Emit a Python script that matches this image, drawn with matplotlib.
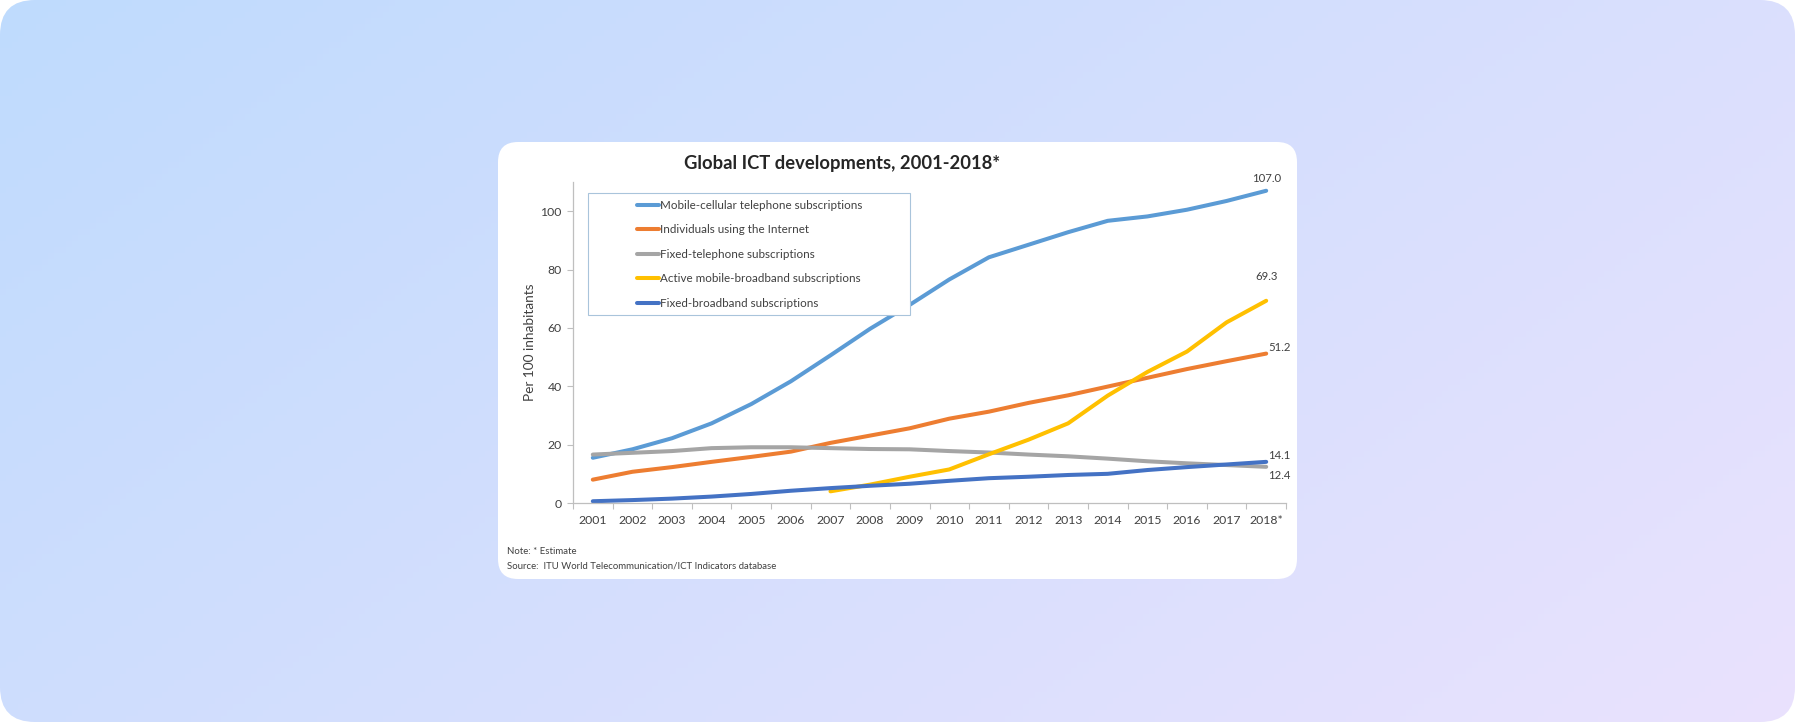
import numpy as np
import matplotlib
matplotlib.use("Agg")
import matplotlib.pyplot as plt
import matplotlib.patches as pcs

plt.rcParams['font.family'] = ['Lato', 'DejaVu Sans']

# Data
years = ['2001', '2002', '2003', '2004', '2005', '2006', '2007', '2008', '2009',
         '2010', '2011', '2012', '2013', '2014', '2015', '2016', '2017', '2018*']
mobile_cellular = [15.5, 18.4, 22.2, 27.3, 33.9, 41.7, 50.6, 59.7, 67.9,
                   76.6, 84.2, 88.5, 92.8, 96.7, 98.2, 100.5, 103.5, 107.0]
internet_users = [8.0, 10.7, 12.3, 14.1, 15.8, 17.6, 20.6, 23.1, 25.6,
                  28.9, 31.3, 34.3, 36.9, 39.9, 42.9, 45.9, 48.6, 51.2]
fixed_telephone = [16.6, 17.2, 17.8, 18.8, 19.1, 19.1, 18.8, 18.5, 18.4,
                   17.8, 17.3, 16.6, 16.0, 15.2, 14.3, 13.6, 13.0, 12.4]
mobile_broadband = [None, None, None, None, None, None, 4.0, 6.3, 9.0,
                    11.5, 16.7, 21.7, 27.3, 36.8, 44.9, 51.9, 61.9, 69.3]
fixed_broadband = [0.6, 1.0, 1.5, 2.2, 3.1, 4.2, 5.1, 5.9, 6.6,
                   7.6, 8.5, 9.0, 9.6, 10.0, 11.3, 12.3, 13.2, 14.1]

series = [
    ("Mobile-cellular telephone subscriptions", mobile_cellular, '#5B9BD5'),
    ("Individuals using the Internet", internet_users, '#ED7D31'),
    ("Fixed-telephone subscriptions", fixed_telephone, '#A5A5A5'),
    ("Active mobile-broadband subscriptions", mobile_broadband, '#FFC000'),
    ("Fixed-broadband subscriptions", fixed_broadband, '#4472C4'),
]

# end labels: (text, series values, dx px, dy px, ha)
end_labels = [
    ("107.0", mobile_cellular, 0, 12, 'center'),
    ("69.3", mobile_broadband, 0, 24, 'center'),
    ("51.2", internet_users, 2, 6, 'left'),
    ("14.1", fixed_broadband, 2, 6, 'left'),
    ("12.4", fixed_telephone, 2, -9, 'left'),
]

W, H = 1795, 722
fig = plt.figure(figsize=(W / 100, H / 100), dpi=100)
fig.patch.set_facecolor('white')

# Background: gradient with rounded corners, white card
bg = fig.add_axes([0, 0, 1, 1])
bg.set_xlim(0, W)
bg.set_ylim(H, 0)
bg.axis('off')
gx, gy = np.meshgrid(np.linspace(0, 1, 300), np.linspace(0, 1, 120))
t = (gx * 0.65 + gy * 0.35)
c0 = np.array([191, 219, 254]) / 255.
c1 = np.array([234, 226, 253]) / 255.
grad = c0[None, None, :] * (1 - t[..., None]) + c1[None, None, :] * t[..., None]
im = bg.imshow(grad, extent=(0, W, H, 0), aspect='auto', zorder=0)
outer = pcs.FancyBboxPatch((0, 0), W, H, boxstyle="round,pad=0,rounding_size=35",
                           transform=bg.transData, facecolor='none', edgecolor='none')
bg.add_patch(outer)
im.set_clip_path(outer)
card = pcs.FancyBboxPatch((498, 142), 799, 437, boxstyle="round,pad=0,rounding_size=20",
                          facecolor='white', edgecolor='none', zorder=1)
bg.add_patch(card)

# Chart
ax = fig.add_axes([573 / W, 219 / H, 713 / W, 321 / H])
ax.set_facecolor('none')
x = np.arange(len(years))
for label, vals, color in series:
    v = np.array([np.nan if a is None else a for a in vals], dtype=float)
    ax.plot(x, v, color=color, lw=2.9, label=label, solid_capstyle='round')

for text, vals, dx, dy, ha in end_labels:
    ax.annotate(text, xy=(x[-1], vals[-1]), xytext=(dx * 0.72, dy * 0.72),
                textcoords='offset points', ha=ha, va='center', fontsize=8.2,
                color='#404040', annotation_clip=False)

ax.set_xlim(-0.5, len(years) - 0.5)
ax.set_ylim(0, 110)
ax.set_yticks([0, 20, 40, 60, 80, 100])
ax.set_xticks(x)
ax.set_xticklabels(years)
ax.set_xticks(np.arange(-0.5, len(years)), minor=True)
ax.tick_params(axis='x', which='major', length=0, pad=9, labelsize=8.8, labelcolor='#404040')
ax.tick_params(axis='x', which='minor', length=4, color='#BFBFBF', width=0.8)
ax.tick_params(axis='y', length=4, color='#BFBFBF', width=0.8, labelsize=8.8,
               labelcolor='#404040', pad=4)
for s in ['top', 'right']:
    ax.spines[s].set_visible(False)
for s in ['left', 'bottom']:
    ax.spines[s].set_color('#BFBFBF')
    ax.spines[s].set_linewidth(0.9)
ax.set_ylabel("Per 100 inhabitants", fontsize=9.8, color='#404040', labelpad=3)

# Legend box + legend
box = pcs.Rectangle((0.021, 0.586), 0.452, 0.38, transform=ax.transAxes,
                    facecolor='white', edgecolor='#A9C4DB', lw=0.8, zorder=3)
ax.add_patch(box)
leg = ax.legend(loc='upper left', bbox_to_anchor=(0.0898, 0.945), frameon=False,
                fontsize=8.4, handlelength=1.9, handletextpad=0.1, labelspacing=1.16,
                borderpad=0, borderaxespad=0, labelcolor='#404040')
leg.set_zorder(4)

fig.text(842 / W, 1 - 163 / H, "Global ICT developments, 2001-2018*", ha='center',
         va='center', fontsize=13.2, fontweight='bold', color='#262626')
fig.text(507 / W, 1 - 552 / H, "Note: * Estimate", ha='left', va='center',
         fontsize=6.9, color='#404040')
fig.text(507 / W, 1 - 566 / H, "Source:  ITU World Telecommunication/ICT Indicators database",
         ha='left', va='center', fontsize=6.9, color='#404040')

fig.savefig("out.png", dpi=100)
